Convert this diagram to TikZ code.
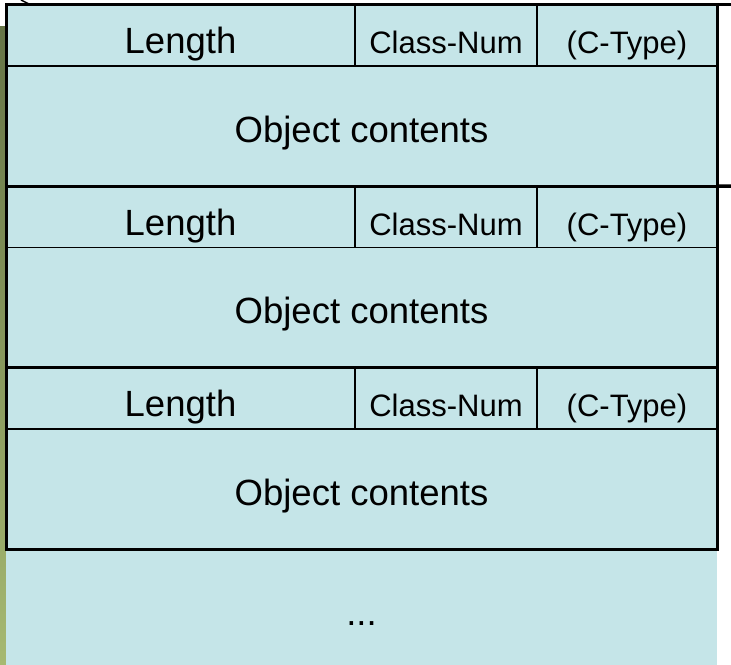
\documentclass[tikz,border=0pt]{standalone}
\usepackage{fontspec}
\setmainfont{Liberation Sans}
\definecolor{cellblue}{RGB}{197,229,232}
\definecolor{olivetop}{RGB}{102,117,71}
\definecolor{olivebot}{RGB}{166,185,113}
\begin{document}
\begin{tikzpicture}[x=1bp,y=-1bp,
  cell/.style={draw=black, line width=1.8bp, fill=cellblue, inner sep=0pt, outer sep=0pt,
    anchor=north west, text height=36.5bp, text depth=0pt},
  bigtext/.style={font=\fontsize{36.5bp}{40bp}\selectfont},
  smalltext/.style={font=\fontsize{31bp}{36bp}\selectfont},
  hdrlen/.style={cell, bigtext, minimum width=349bp, minimum height=61.5bp},
  hdrcls/.style={cell, smalltext, minimum width=182bp, minimum height=61.5bp},
  hdrctp/.style={cell, smalltext, minimum width=180bp, minimum height=61.5bp},
  objbody/.style={cell, bigtext, minimum width=711bp, minimum height=120bp, text height=32bp},
  blockline/.style={draw=black, line width=3bp},
  bracketstub/.style={draw=black, line width=3.5bp},
  bracketbar/.style={draw=black, line width=1.8bp}
]
\useasboundingbox (0,0) rectangle (731,665);

% olive side strip
\shade[top color=olivetop, bottom color=olivebot] (0,27) rectangle (6.5,665);

% open tail of the object list
\node[fill=cellblue, inner sep=0pt, outer sep=0pt, anchor=north west, minimum width=711bp,
  minimum height=116bp, bigtext, text height=36bp, text depth=0pt] (tail) at (6,549) {...};

% three objects: header (Length | Class-Num | C-Type) above contents
\foreach \i/\t in {1/4.5, 2/186, 3/367.5} {
  \node[hdrlen] (len\i) at (6,\t) {Length};
  \node[hdrcls] (cls\i) at (len\i.north east) {Class-Num};
  \node[hdrctp] (ctp\i) at (cls\i.north east) {(C-Type)};
  \node[objbody] (obj\i) at (len\i.south west) {Object contents};
  \draw[blockline] (len\i.north west) rectangle (obj\i.south east);
}

% bracket next to the first object
\coordinate (brtop) at (731,4.5);
\coordinate (brbot) at (731,186);
\draw[bracketbar] (ctp1.north east) -- (obj1.south east);
\draw[bracketstub] (ctp1.north east) -- (brtop);
\draw[bracketstub] (obj1.south east) -- (brbot);

% short stroke at the top edge
\coordinate (arcA) at (21,0);
\coordinate (arcB) at (29,4);
\draw[line width=1.5bp] (arcA) .. controls (25,1.5) .. (arcB);
\end{tikzpicture}
\end{document}
